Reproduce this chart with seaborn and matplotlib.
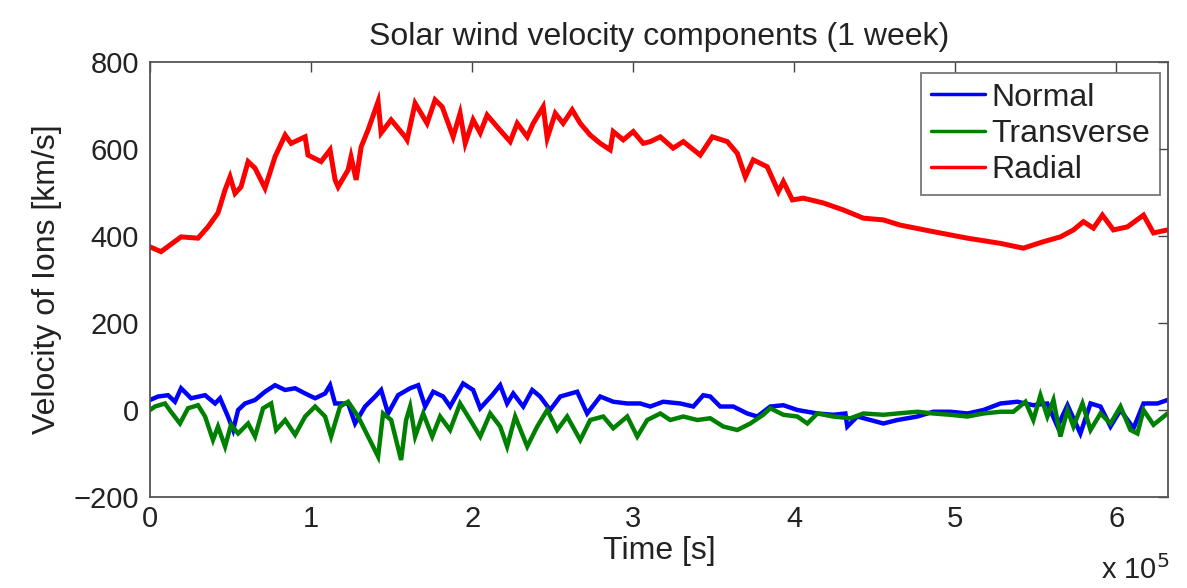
import matplotlib
matplotlib.use("Agg")
import matplotlib.pyplot as plt
import matplotlib.ticker as mticker
import numpy as np
import pandas as pd
import seaborn as sns

# Time stamps in units of 1e5 s, velocities in km/s
t_radial = [0.000, 0.068, 0.193, 0.298, 0.360, 0.422, 0.466, 0.497, 0.528, 0.565,
            0.609, 0.652, 0.714, 0.776, 0.839, 0.876, 0.963, 0.981, 1.062, 1.118,
            1.149, 1.168, 1.230, 1.248, 1.280, 1.311, 1.354, 1.416, 1.435, 1.497,
            1.584, 1.596, 1.646, 1.720, 1.770, 1.814, 1.882, 1.925, 1.957, 2.006,
            2.050, 2.093, 2.155, 2.236, 2.280, 2.342, 2.379, 2.441, 2.466, 2.516,
            2.565, 2.621, 2.671, 2.733, 2.795, 2.857, 2.876, 2.938, 3.000, 3.062,
            3.106, 3.168, 3.248, 3.311, 3.416, 3.491, 3.584, 3.646, 3.696, 3.745,
            3.832, 3.901, 3.932, 3.988, 4.056, 4.180, 4.304, 4.429, 4.553, 4.658,
            4.863, 5.075, 5.280, 5.422, 5.547, 5.652, 5.733, 5.795, 5.857, 5.913,
            5.981, 6.068, 6.168, 6.230, 6.317]
v_radial = [375, 364, 398, 395, 421, 453, 506, 536, 498, 513,
            571, 556, 510, 582, 632, 613, 628, 586, 571, 598,
            529, 513, 552, 582, 529, 605, 644, 709, 637, 667,
            628, 621, 705, 659, 713, 697, 628, 682, 613, 667,
            637, 678, 651, 617, 659, 628, 659, 697, 625, 682,
            659, 690, 659, 632, 613, 598, 640, 621, 640, 613,
            617, 628, 602, 617, 586, 628, 617, 590, 536, 575,
            559, 502, 525, 483, 487, 476, 460, 441, 437, 425,
            410, 395, 383, 372, 387, 398, 414, 433, 418, 448,
            414, 421, 448, 407, 414]

t_normal = [0.000, 0.050, 0.112, 0.155, 0.193, 0.255, 0.342, 0.404, 0.435, 0.484,
            0.516, 0.547, 0.590, 0.652, 0.714, 0.776, 0.839, 0.901, 0.963, 1.025,
            1.087, 1.118, 1.149, 1.230, 1.273, 1.335, 1.398, 1.435, 1.478, 1.540,
            1.615, 1.665, 1.708, 1.758, 1.820, 1.863, 1.944, 2.006, 2.050, 2.124,
            2.174, 2.217, 2.255, 2.317, 2.373, 2.422, 2.484, 2.547, 2.652, 2.714,
            2.795, 2.876, 2.963, 3.043, 3.106, 3.186, 3.292, 3.373, 3.435, 3.478,
            3.540, 3.621, 3.708, 3.770, 3.851, 3.932, 4.019, 4.143, 4.242, 4.317,
            4.329, 4.391, 4.472, 4.553, 4.640, 4.764, 4.863, 4.969, 5.075, 5.174,
            5.280, 5.385, 5.484, 5.571, 5.634, 5.696, 5.776, 5.839, 5.901, 5.963,
            6.025, 6.106, 6.168, 6.255, 6.317]
v_normal = [23, 31, 34, 19, 50, 27, 34, 15, 27, -15,
            -46, 0, 15, 23, 42, 57, 46, 50, 38, 27,
            38, 57, 15, 15, -31, 8, 31, 46, -8, 34,
            50, 57, 8, 42, 31, 8, 61, 46, 4, 34,
            57, 15, 38, 8, 46, 31, 0, 31, 42, -8,
            31, 19, 15, 15, 8, 19, 15, 8, 34, 31,
            8, 8, -8, -15, 8, 11, 0, -8, -11, -8,
            -38, -15, -23, -31, -23, -15, -4, -4, -8, 0,
            15, 19, 11, 15, -38, 11, -54, 15, 8, -38,
            0, -42, 15, 15, 23]

t_transverse = [0.000, 0.031, 0.093, 0.130, 0.186, 0.236, 0.298, 0.342, 0.391, 0.422,
                0.466, 0.503, 0.547, 0.609, 0.652, 0.702, 0.752, 0.783, 0.839, 0.901,
                0.963, 1.025, 1.087, 1.124, 1.180, 1.230, 1.292, 1.354, 1.416, 1.447,
                1.497, 1.559, 1.590, 1.615, 1.646, 1.696, 1.752, 1.801, 1.863, 1.925,
                1.988, 2.050, 2.112, 2.174, 2.217, 2.267, 2.342, 2.404, 2.466, 2.528,
                2.590, 2.671, 2.733, 2.814, 2.876, 2.963, 3.025, 3.087, 3.168, 3.230,
                3.311, 3.398, 3.478, 3.559, 3.646, 3.727, 3.807, 3.851, 3.932, 4.019,
                4.081, 4.143, 4.242, 4.348, 4.429, 4.553, 4.640, 4.764, 4.863, 4.969,
                5.075, 5.174, 5.280, 5.360, 5.435, 5.484, 5.528, 5.571, 5.609, 5.652,
                5.696, 5.733, 5.789, 5.839, 5.901, 5.963, 6.025, 6.087, 6.130, 6.168,
                6.230, 6.317]
v_transverse = [0, 8, 15, -4, -31, 4, 11, -15, -69, -38,
                -84, -34, -54, -31, -61, 4, 15, -46, -23, -57,
                -15, 8, -15, -61, 8, 19, -15, -61, -107, -8,
                -23, -115, -23, 8, -61, -8, -61, -15, -46, 15,
                -23, -61, -8, -38, -84, -15, -84, -38, 0, -46,
                -15, -69, -23, -15, -42, -15, -61, -23, -8, -23,
                -15, -23, -19, -38, -46, -31, -11, 4, -11, -15,
                -31, -8, -15, -19, -8, -11, -8, -4, -8, -11,
                -15, -8, -4, -4, 19, -23, 34, -15, 23, -61,
                0, -38, 15, -46, -8, -31, 8, -46, -54, 0,
                -34, -8]

series_names = ["Normal", "Transverse", "Radial"]
series_colors = {"Normal": "#0000ff", "Transverse": "#008000", "Radial": "#ff0000"}
series_widths = {"Normal": 3.2, "Transverse": 3.2, "Radial": 3.6}

frames = []
for name, t, v in [("Normal", t_normal, v_normal),
                   ("Transverse", t_transverse, v_transverse),
                   ("Radial", t_radial, v_radial)]:
    frames.append(pd.DataFrame({"time": np.array(t) * 1e5,
                                "velocity": v,
                                "component": name}))
df = pd.concat(frames, ignore_index=True)

sns.set_style("white")
plt.rcParams["font.family"] = ["Liberation Sans", "DejaVu Sans"]

fig = plt.figure(figsize=(11.87, 5.88), dpi=100)
ax = fig.add_axes([150 / 1187, 1 - 497 / 588, (1168 - 150) / 1187, (497 - 62) / 588])

sns.lineplot(data=df, x="time", y="velocity", hue="component",
             hue_order=series_names, palette=series_colors,
             estimator=None, sort=False, linewidth=3, ax=ax, legend=False)
for line, name in zip(ax.lines, series_names):
    line.set_linewidth(series_widths[name])
    line.set_solid_joinstyle("miter")

ax.set_xlim(0, 6.32e5)
ax.set_ylim(-200, 800)
ax.set_xticks(np.arange(0, 7) * 1e5)
ax.set_yticks(np.arange(-200, 801, 200))
ax.xaxis.set_major_formatter(mticker.FuncFormatter(lambda x, p: f"{x / 1e5:g}"))
ax.yaxis.set_major_formatter(mticker.FuncFormatter(
    lambda y, p: f"\u2212{abs(int(y))}" if y < 0 else f"{int(y)}"))

ax.tick_params(direction="in", length=7, width=1, colors="#444444",
               labelcolor="#222222", labelsize=21, top=True, right=True)
ax.tick_params(axis="y", pad=8)
ax.tick_params(axis="x", pad=6)
for sp in ax.spines.values():
    sp.set_color("#555555")
    sp.set_linewidth(1.3)

ax.set_title("Solar wind velocity components (1 week)", fontsize=23,
             color="#222222", pad=12)
ax.set_xlabel("Time [s]", fontsize=23, color="#222222", labelpad=2)
ax.set_ylabel("Velocity of Ions [km/s]", fontsize=23, color="#222222", labelpad=8)

fig.text(1170 / 1187, 1 - 570 / 588, r"x 10$^{5}$", ha="right", va="center",
         fontsize=21, color="#222222")

handles = [plt.Line2D([], [], color=series_colors[n], linewidth=2.5)
           for n in series_names]
leg = ax.legend(handles, series_names, loc="upper right",
                bbox_to_anchor=(1160 / 1187, 1 - 73 / 588),
                bbox_transform=fig.transFigure, fontsize=23, frameon=True,
                fancybox=False, handlelength=1.7, handletextpad=0.2,
                borderpad=0.3, labelspacing=0.2, borderaxespad=0)
leg.get_frame().set_edgecolor("#555555")
leg.get_frame().set_linewidth(1.3)
for text in leg.get_texts():
    text.set_color("#222222")

fig.savefig("out.png", dpi=100, facecolor="white")
